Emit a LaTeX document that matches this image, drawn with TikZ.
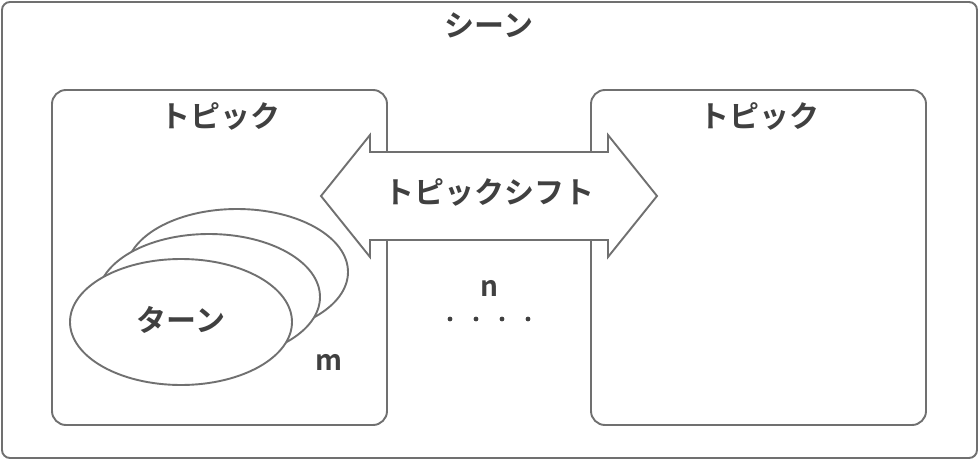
\documentclass[tikz,border=0pt]{standalone}
\usepackage{fontspec}
\setmainfont{Noto Sans CJK JP}[BoldFont={* Bold}]
\usetikzlibrary{shapes.arrows}
\definecolor{linegray}{HTML}{707070}
\definecolor{textgray}{HTML}{404040}
\begin{document}
\begin{tikzpicture}[x=1pt,y=-1pt,
  lbl/.style={text=textgray,font=\bfseries\fontsize{30}{34}\selectfont,inner sep=0pt},
  small/.style={text=textgray,font=\bfseries\fontsize{28}{32}\selectfont,inner sep=0pt},
  frame/.style={draw=linegray,line width=1.9pt,fill=white}]
\useasboundingbox (0,0) rectangle (980,460);
% scene
\draw[frame,rounded corners=8pt] (2,2) rectangle (977,458);
\node[lbl] (scene) at (489,25) {シーン};
% topics
\draw[frame,rounded corners=14pt] (52,90) rectangle (387,425);
\draw[frame,rounded corners=14pt] (591,90) rectangle (926,425);
\node[lbl] (topicL) at (220,116) {トピック};
\node[lbl] (topicR) at (759,116) {トピック};
% turns
\draw[frame] (237,272) ellipse (111pt and 63pt);
\draw[frame] (209,297) ellipse (111pt and 63pt);
\draw[frame] (181,322) ellipse (111pt and 63pt);
\node[lbl] (turn) at (181,320) {ターン};
\node[small] (m) at (329,362) {m};
% double arrow
\draw[frame,line join=miter]
  (321,196) -- (370,135) -- (370,152) -- (608,152) -- (608,135) -- (657,196)
  -- (608,257) -- (608,240) -- (370,240) -- (370,257) -- cycle;
\node[lbl] (shift) at (489,192) {トピックシフト};
% n and dots
\node[small] (n) at (489,288) {n};
\foreach \xx in {450,476,502,528} \fill[textgray] (\xx,319) circle (2.4pt);
\end{tikzpicture}
\end{document}
